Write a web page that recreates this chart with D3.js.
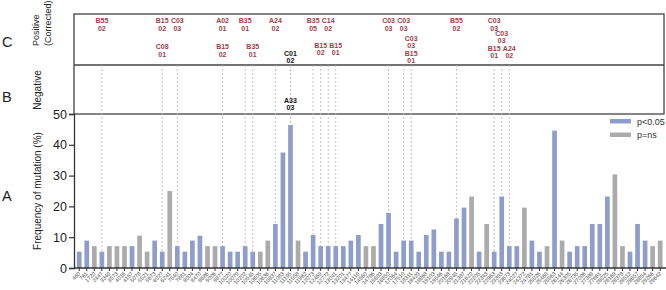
<!DOCTYPE html>
<html>
<head>
<meta charset="utf-8">
<script src="https://cdn.jsdelivr.net/npm/d3@7"></script>
<style>
  body { margin: 0; background: #fff; }
  text { font-family: Arial, "Liberation Sans", sans-serif; }
</style>
</head>
<body>
<svg id="mainsvg" width="666" height="290"></svg>
<script>
const svg = d3.select('#mainsvg');

// genome positions (x tick labels)
const positions = [460, 761, 1720, 2447, 3349, 3573, 4016, 4157, 5078, 5521, 5673, 6027, 6241,
  7540, 7881, 8004, 8470, 8686, 9006, 9877, 10020, 10079, 10202, 10545, 10605, 10636, 10837,
  11083, 11195, 11558, 11962, 12073, 12469, 12772, 13041, 13201, 13477, 14119, 14560, 14786,
  15603, 16850, 17064, 17510, 18311, 18429, 18868, 19103, 19546, 20168, 20949, 21387, 21622,
  22205, 22343, 22963, 23393, 23673, 24027, 24372, 24781, 25026, 25469, 25563, 26144, 26305,
  26735, 27006, 27389, 27661, 28025, 28169, 28378, 28512, 28657, 28854, 29266, 29642];

// frequency of mutation (%)
const freqs = [5.3, 8.9, 7.1, 5.3, 7.1, 7.1, 7.1, 7.1, 10.5, 5.3, 8.9, 5.3, 25,
  7.1, 5.3, 8.9, 10.5, 7.1, 7.1, 7.1, 5.3, 5.3, 7.1, 5.3, 5.3, 8.9, 14.3,
  37.5, 46.4, 8.9, 5.3, 10.7, 7.1, 7.1, 7.1, 7.1, 8.9, 10.7, 7.1, 7.1,
  14.3, 17.9, 5.3, 8.9, 8.9, 5.3, 10.7, 12.5, 5.3, 5.3, 16.1, 19.6, 23.2,
  5.3, 14.3, 5.3, 23.2, 7.1, 7.1, 19.6, 8.9, 5.3, 7.1, 44.6, 8.9, 5.3,
  7.1, 7.1, 14.3, 14.3, 23.2, 30.4, 7.1, 5.3, 14.3, 8.9, 7.1, 8.9];

// 1 = p<0.05, 0 = p=ns
const sig = [1, 1, 0, 1, 0, 0, 0, 1, 0, 0, 1, 1, 0,
  1, 1, 1, 1, 0, 0, 1, 1, 1, 1, 1, 0, 0, 1,
  1, 1, 0, 1, 1, 1, 1, 1, 1, 1, 1, 0, 0,
  1, 1, 1, 1, 1, 1, 1, 1, 1, 1, 1, 1, 0,
  1, 0, 1, 1, 1, 1, 0, 1, 1, 0, 1, 0, 1,
  1, 1, 1, 1, 1, 0, 0, 1, 1, 1, 0, 0];

// HLA restriction annotations (bar is 1-based index, line = stacking level)
const positiveAnno = [
  { bar: 4, hla: 'B55', grp: '02', line: 0 },
  { bar: 12, hla: 'B15', grp: '02', line: 0 },
  { bar: 12, hla: 'C08', grp: '01', line: 3.45 },
  { bar: 14, hla: 'C03', grp: '03', line: 0 },
  { bar: 20, hla: 'A02', grp: '01', line: 0 },
  { bar: 20, hla: 'B15', grp: '02', line: 3.45 },
  { bar: 23, hla: 'B35', grp: '01', line: 0 },
  { bar: 24, hla: 'B35', grp: '01', line: 3.45 },
  { bar: 27, hla: 'A24', grp: '02', line: 0 },
  { bar: 32, hla: 'B35', grp: '05', line: 0 },
  { bar: 33, hla: 'B15', grp: '02', line: 3.25 },
  { bar: 34, hla: 'C14', grp: '02', line: 0 },
  { bar: 35, hla: 'B15', grp: '01', line: 3.25 },
  { bar: 42, hla: 'C03', grp: '03', line: 0 },
  { bar: 44, hla: 'C03', grp: '03', line: 0 },
  { bar: 45, hla: 'C03', grp: '03', line: 2.35 },
  { bar: 45, hla: 'B15', grp: '01', line: 4.35 },
  { bar: 51, hla: 'B55', grp: '02', line: 0 },
  { bar: 56, hla: 'C03', grp: '03', line: 0 },
  { bar: 56, hla: 'B15', grp: '01', line: 3.7 },
  { bar: 57, hla: 'C03', grp: '03', line: 1.7 },
  { bar: 58, hla: 'A24', grp: '02', line: 3.7 }
];
const uncorrectedAnno = [{ bar: 29, hla: 'C01', grp: '02', line: 4.35 }];
const negativeAnno = [{ bar: 29, hla: 'A33', grp: '03' }];

const legendKeys = ['p<0.05', 'p=ns'];
const yTicks = [0, 10, 20, 30, 40, 50];

const blue = '#8f9dcb';
const grey = '#ababab';
const red = '#9e3f4a';

const left = 74, right = 664;
const cTop = 14, bTop = 65, aTop = 114, base = 268;

const data = positions.map((p, i) => ({ pos: p, freq: freqs[i], sig: sig[i], idx: i + 1 }));

const xScale = d3.scaleBand()
  .domain(data.map(d => d.idx))
  .range([75, 664.4])
  .paddingInner(0.38)
  .paddingOuter(0.25);
const cx = i => xScale(i) + xScale.bandwidth() / 2;

const yScale = d3.scaleLinear().domain([0, 50]).range([base, aTop]);

const color = d3.scaleOrdinal().domain([1, 0]).range([blue, grey]);

// panels
const frame = svg.append('g');
frame.append('rect').attr('x', left).attr('y', cTop).attr('width', right - left).attr('height', aTop - cTop)
  .attr('fill', 'none').attr('stroke', '#444').attr('stroke-width', 1.3);
frame.append('line').attr('x1', left).attr('x2', right).attr('y1', bTop).attr('y2', bTop)
  .attr('stroke', '#444').attr('stroke-width', 1.3);

// dashed guide lines
const marked = Array.from(new Set(positiveAnno.concat(uncorrectedAnno).map(d => d.bar)));
svg.append('g').selectAll('line').data(marked).join('line')
  .attr('x1', d => cx(d)).attr('x2', d => cx(d))
  .attr('y1', bTop).attr('y2', d => yScale(freqs[d - 1]))
  .attr('stroke', '#b5b5b5').attr('stroke-width', 0.8).attr('stroke-dasharray', '2,2');

// bars
svg.append('g').selectAll('rect').data(data).join('rect')
  .attr('x', d => xScale(d.idx))
  .attr('y', d => yScale(d.freq))
  .attr('width', xScale.bandwidth())
  .attr('height', d => base - yScale(d.freq))
  .attr('fill', d => color(d.sig));

// y axis
const yAxis = d3.axisLeft(yScale).tickValues(yTicks).tickSize(5).tickPadding(2);
const yg = svg.append('g').attr('transform', `translate(${left},0)`).call(yAxis);
yg.select('.domain').attr('stroke', '#333').attr('stroke-width', 1.3);
yg.selectAll('.tick line').attr('stroke', '#333').attr('stroke-width', 1.2);
yg.selectAll('.tick text').attr('font-size', 12.5).attr('fill', '#222');

// x axis
const xAxis = d3.axisBottom(xScale).tickSize(3).tickSizeOuter(0).tickFormat(i => positions[i - 1]);
const xg = svg.append('g').attr('transform', `translate(0,${base})`).call(xAxis);
xg.select('.domain').attr('stroke', '#333').attr('stroke-width', 1.3).attr('d', `M${left},0H${right + 2}`);
xg.selectAll('.tick line').attr('stroke', '#333');
xg.selectAll('.tick text')
  .attr('font-size', 5.5).attr('fill', '#444')
  .attr('text-anchor', 'end')
  .attr('dy', null).attr('y', 0)
  .attr('transform', 'translate(1.5,6) rotate(-45)');

// annotation labels
const lineY = d3.scaleLinear().domain([0, 1]).range([23.2, 30.7]);
function drawAnno(sel, list, fill, y0) {
  const g = sel.selectAll(null).data(list).join('text')
    .attr('text-anchor', 'middle')
    .attr('font-size', 7).attr('font-weight', 'bold').attr('fill', fill);
  g.append('tspan').attr('x', d => cx(d.bar)).attr('y', d => y0(d)).text(d => d.hla);
  g.append('tspan').attr('x', d => cx(d.bar)).attr('y', d => y0(d) + 7.5).text(d => d.grp);
}
const annoG = svg.append('g');
drawAnno(annoG.append('g'), positiveAnno, red, d => lineY(d.line));
drawAnno(annoG.append('g'), uncorrectedAnno, '#111', d => lineY(d.line));
drawAnno(annoG.append('g'), negativeAnno, '#111', d => 102.5);

// side labels
const side = svg.append('g').attr('fill', '#222');
side.append('text').attr('transform', 'translate(40.5,191) rotate(-90)')
  .attr('text-anchor', 'middle').attr('font-size', 10).text('Frequency of mutation (%)');
side.append('text').attr('transform', 'translate(40.5,90) rotate(-90)')
  .attr('text-anchor', 'middle').attr('font-size', 10).text('Negative');
side.append('text').attr('transform', 'translate(38.5,46) rotate(-90)')
  .attr('text-anchor', 'start').attr('font-size', 9).text('Positive');
side.append('text').attr('transform', 'translate(51,46) rotate(-90)')
  .attr('text-anchor', 'start').attr('font-size', 9).text('(Corrected)');
side.append('text').attr('x', 2).attr('y', 200.7).attr('font-size', 14.5).text('A');
side.append('text').attr('x', 2).attr('y', 101.7).attr('font-size', 14.5).text('B');
side.append('text').attr('x', 2).attr('y', 46.7).attr('font-size', 14.5).text('C');

// legend
const legend = svg.append('g').attr('transform', 'translate(610,119)');
const li = legend.selectAll('g').data(legendKeys).join('g')
  .attr('transform', (d, i) => `translate(0,${i * 13.5})`);
li.append('rect').attr('width', 21).attr('height', 4.5).attr('fill', (d, i) => i === 0 ? blue : grey);
li.append('text').attr('x', 27).attr('y', 5.5).attr('font-size', 9).attr('fill', '#333').text(d => d);
</script>
</body>
</html>
